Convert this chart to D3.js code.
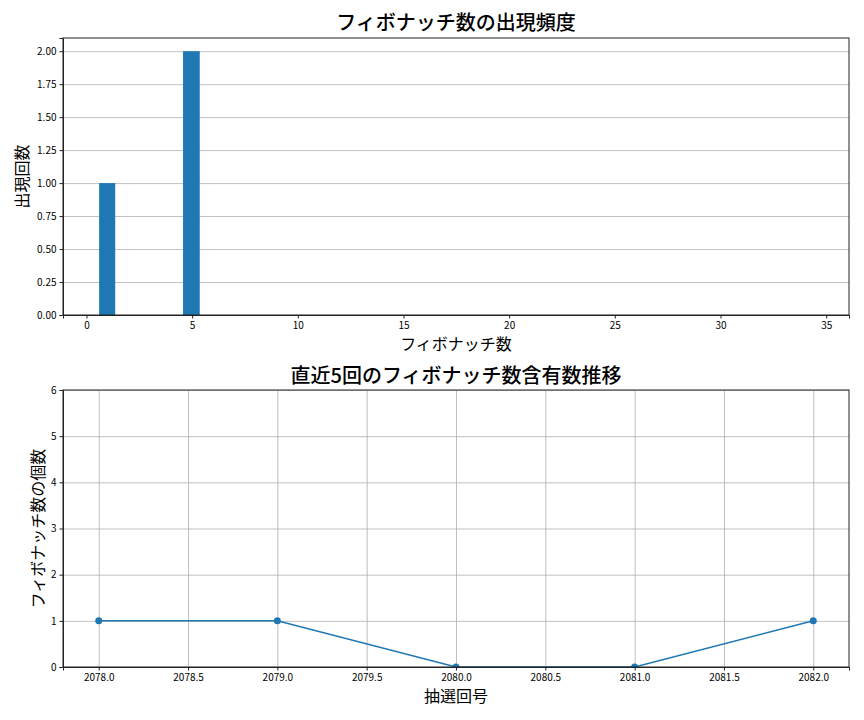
<!DOCTYPE html>
<html>
<head>
<meta charset="utf-8">
<script src="https://cdn.jsdelivr.net/npm/d3@7"></script>
<style>
  body { margin: 0; background: #fff; }
  svg, svg text { font-family: "Noto Sans CJK JP", "Noto Sans", sans-serif; }
  .grid line { stroke: #b0b0b0; stroke-width: 0.8; }
  .grid path { display: none; }
  .tick text { font-size: 10px; fill: #000; }
</style>
</head>
<body>
<div id="chart"></div>
<script>
// histogram of fibonacci numbers
var binStart = [0.6, 4.57];
var binEnd = [1.36, 5.36];
var binCount = [1, 2];
var histXTicks = [0, 5, 10, 15, 20, 25, 30, 35];
var histYTicks = [0, 0.25, 0.5, 0.75, 1.0, 1.25, 1.5, 1.75, 2.0];

// last 5 draws
var drawNo = [2078, 2079, 2080, 2081, 2082];
var fibCount = [1, 1, 0, 0, 1];
var lineXTicks = [2078, 2078.5, 2079, 2079.5, 2080, 2080.5, 2081, 2081.5, 2082];
var lineYTicks = [0, 1, 2, 3, 4, 5, 6];

var blue = "#1f77b4";
var W = 864, H = 720;
var left = 63, right = 849;

var svg = d3.select("#chart").append("svg")
    .attr("width", W)
    .attr("height", H);

// ---------- top: histogram ----------
var top1 = 38, bot1 = 315;
var x1 = d3.scaleLinear().domain([-1.11, 36.08]).range([left, right]);
var y1 = d3.scaleLinear().domain([0, 2.1]).range([bot1, top1]);

var g1 = svg.append("g");

g1.append("g")
    .attr("class", "grid")
    .attr("transform", `translate(${left},0)`)
    .call(d3.axisLeft(y1).tickValues(histYTicks).tickSize(-(right - left)).tickFormat(""));

g1.selectAll(".bar")
    .data(binCount)
  .enter().append("rect")
    .attr("class", "bar")
    .attr("x", function(d, i) { return x1(binStart[i]); })
    .attr("width", function(d, i) { return x1(binEnd[i]) - x1(binStart[i]); })
    .attr("y", function(d) { return y1(d); })
    .attr("height", function(d) { return bot1 - y1(d); })
    .attr("fill", blue);

g1.append("g")
    .attr("class", "axis")
    .attr("transform", `translate(0,${bot1})`)
    .call(d3.axisBottom(x1).tickValues(histXTicks).tickSize(3.5).tickPadding(3).tickFormat(d3.format("d")));

g1.append("g")
    .attr("class", "axis")
    .attr("transform", `translate(${left},0)`)
    .call(d3.axisLeft(y1).tickValues(histYTicks).tickSize(3.5).tickPadding(3).tickFormat(d3.format(".2f")));

g1.append("rect")
    .attr("x", left).attr("y", top1)
    .attr("width", right - left).attr("height", bot1 - top1)
    .attr("fill", "none").attr("stroke", "#222").attr("stroke-width", 1);

g1.append("text")
    .attr("x", (left + right) / 2).attr("y", 30)
    .attr("text-anchor", "middle")
    .style("font-size", "20px")
    .style("font-weight", 500)
    .text("フィボナッチ数の出現頻度");

g1.append("text")
    .attr("x", (left + right) / 2).attr("y", 350)
    .attr("text-anchor", "middle")
    .style("font-size", "16px")
    .text("フィボナッチ数");

g1.append("text")
    .attr("transform", `translate(28,${(top1 + bot1) / 2}) rotate(-90)`)
    .attr("text-anchor", "middle")
    .style("font-size", "16px")
    .text("出現回数");

// ---------- bottom: line ----------
var top2 = 390, bot2 = 667;
var x2 = d3.scaleLinear().domain([2077.8, 2082.2]).range([left, right]);
var y2 = d3.scaleLinear().domain([0, 6]).range([bot2, top2]);

var g2 = svg.append("g");

g2.append("g")
    .attr("class", "grid")
    .attr("transform", `translate(${left},0)`)
    .call(d3.axisLeft(y2).tickValues(lineYTicks).tickSize(-(right - left)).tickFormat(""));

g2.append("g")
    .attr("class", "grid")
    .attr("transform", `translate(0,${bot2})`)
    .call(d3.axisBottom(x2).tickValues(lineXTicks).tickSize(-(bot2 - top2)).tickFormat(""));

svg.append("clipPath").attr("id", "clip2")
  .append("rect")
    .attr("x", left).attr("y", top2)
    .attr("width", right - left).attr("height", bot2 - top2);

var pts = drawNo.map(function(d, i) { return {x: d, y: fibCount[i]}; });

var line = d3.line()
    .x(function(d) { return x2(d.x); })
    .y(function(d) { return y2(d.y); });

var plot2 = g2.append("g").attr("clip-path", "url(#clip2)");

plot2.append("path")
    .datum(pts)
    .attr("d", line)
    .attr("fill", "none")
    .attr("stroke", blue)
    .attr("stroke-width", 1.5);

plot2.selectAll(".dot")
    .data(pts)
  .enter().append("circle")
    .attr("class", "dot")
    .attr("cx", function(d) { return x2(d.x); })
    .attr("cy", function(d) { return y2(d.y); })
    .attr("r", 3.5)
    .attr("fill", blue);

g2.append("g")
    .attr("class", "axis")
    .attr("transform", `translate(0,${bot2})`)
    .call(d3.axisBottom(x2).tickValues(lineXTicks).tickSize(3.5).tickPadding(3).tickFormat(d3.format(".1f")));

g2.append("g")
    .attr("class", "axis")
    .attr("transform", `translate(${left},0)`)
    .call(d3.axisLeft(y2).tickValues(lineYTicks).tickSize(3.5).tickPadding(3).tickFormat(d3.format("d")));

g2.append("rect")
    .attr("x", left).attr("y", top2)
    .attr("width", right - left).attr("height", bot2 - top2)
    .attr("fill", "none").attr("stroke", "#222").attr("stroke-width", 1);

g2.append("text")
    .attr("x", (left + right) / 2).attr("y", 383)
    .attr("text-anchor", "middle")
    .style("font-size", "20px")
    .style("font-weight", 500)
    .text("直近5回のフィボナッチ数含有数推移");

g2.append("text")
    .attr("x", (left + right) / 2).attr("y", 702)
    .attr("text-anchor", "middle")
    .style("font-size", "16px")
    .text("抽選回号");

g2.append("text")
    .attr("transform", `translate(44,${(top2 + bot2) / 2}) rotate(-90)`)
    .attr("text-anchor", "middle")
    .style("font-size", "16px")
    .text("フィボナッチ数の個数");

// matplotlib-like axis styling
svg.selectAll(".axis, .grid").attr("font-family", null).attr("font-size", null);
svg.selectAll(".axis .domain").attr("stroke", "#222");
svg.selectAll(".axis .tick line").attr("stroke", "#222");
</script>
</body>
</html>
